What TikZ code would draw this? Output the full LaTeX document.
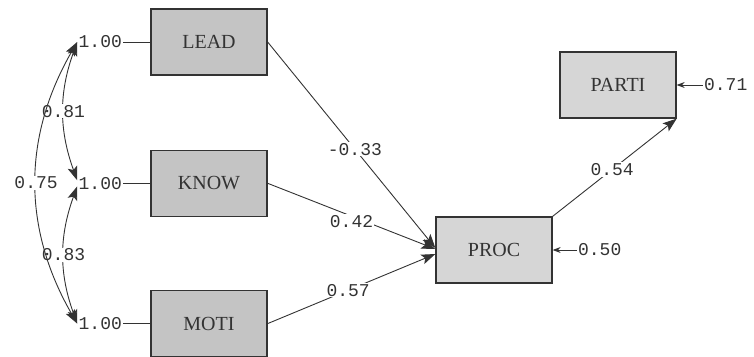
\documentclass[tikz,border=0pt]{standalone}
\usepackage{fontspec}
\setmainfont{Liberation Serif}
\setmonofont{Liberation Mono}
\usetikzlibrary{positioning, arrows.meta}
\definecolor{ink}{HTML}{333333}
\definecolor{boxgray}{HTML}{C4C4C4}
\definecolor{boxlite}{HTML}{D6D6D6}
\tikzset{
var/.style={draw=ink, line width=1.3pt, fill=boxgray, text=ink, minimum width=116pt, minimum height=66pt, font=\fontsize{20}{20}\selectfont}, % observed variables
lite/.style={fill=boxlite}, % endogenous boxes are a bit lighter
coef/.style={font=\ttfamily\fontsize{18}{18}\selectfont, text=ink, fill=white, inner sep=1pt}, % numbers
err/.style={-{Stealth[length=8pt, width=6pt]}}, % small error arrows
}

\begin{document}
\begin{tikzpicture}[x=1pt, y=1pt, line width=0.9pt, draw=ink,
        >={Stealth[length=14pt, width=10pt, inset=3pt]}]
        \useasboundingbox (0,0) rectangle (754,-356);

        \node[var] (LEAD) at (209,-42) {LEAD};
        \node[var, below=74pt of LEAD] (KNOW) {KNOW};
        \node[var, below=73pt of KNOW] (MOTI) {MOTI};
        \node[var, lite] (PROC) at (494,-250) {PROC};
        \node[var, lite] (PARTI) at (618,-85) {PARTI};

        % variances
        \node[coef, left=27pt of LEAD] (vLEAD) {1.00};
        \node[coef, left=27pt of KNOW] (vKNOW) {1.00};
        \node[coef, left=27pt of MOTI] (vMOTI) {1.00};
        \draw (vLEAD) -- (LEAD);
        \draw (vKNOW) -- (KNOW);
        \draw (vMOTI) -- (MOTI);

        % error terms
        \node[coef, right=24pt of PROC] (ePROC) {0.50};
        \node[coef, right=26pt of PARTI] (ePARTI) {0.71};
        \draw[err] (ePROC) -- (PROC);
        \draw[err] (ePARTI) -- (PARTI);

        % correlations
        \draw[<->] (vLEAD.west) to[out=250, in=110] node[coef]{0.81} ([yshift=3pt]vKNOW.west);
        \draw[<->] ([yshift=-3pt]vKNOW.west) to[out=250, in=110] node[coef]{0.83} (vMOTI.west);
        \draw[<->] (vLEAD.west) to[out=240, in=120] node[coef]{0.75} (vMOTI.west);

        % paths
        \draw[->] (LEAD.east) -- node[coef, pos=0.52]{-0.33} ([yshift=2pt]PROC.west);
        \draw[->] (KNOW.east) -- node[coef, pos=0.5, yshift=-5pt]{0.42} ([yshift=1pt]PROC.west);
        \draw[->] (MOTI.east) -- node[coef, pos=0.48]{0.57} ([yshift=-4pt]PROC.west);
        \draw[->] (PROC.north east) -- node[coef, pos=0.48]{0.54} (PARTI.south east);
\end{tikzpicture}
\end{document}
